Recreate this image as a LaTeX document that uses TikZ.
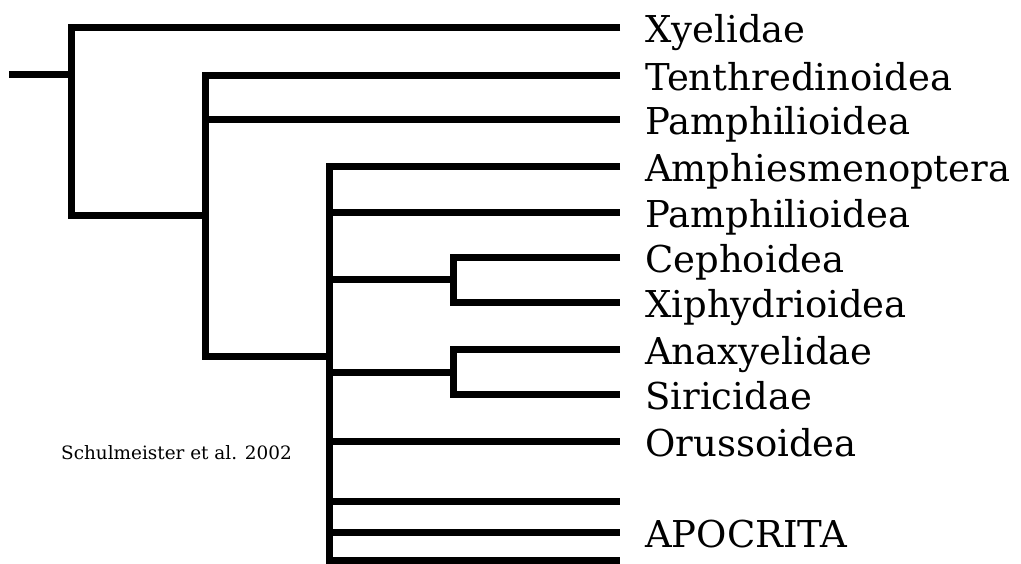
\documentclass[tikz,border=0pt]{standalone}
\usepackage{fontspec}
\setmainfont{DejaVu Serif}
\begin{document}
\begin{tikzpicture}[x=1pt,y=-1pt,
  br/.style={line width=7pt,line join=miter,line cap=butt},
  taxon/.style={anchor=base west,inner sep=0pt,font=\fontsize{37}{37}\selectfont},
  cite/.style={anchor=base west,inner sep=0pt,font=\fontsize{18.4}{18.4}\selectfont}]
\useasboundingbox (0,0) rectangle (1021,563);
% leaf ends and labels
\def\lx{620}
\foreach \n/\y in {xyel/27.5,tenth/75,pamA/119.5,amph/166,pamB/212.7,ceph/257.3,xiph/302.3,anax/349.3,siric/394,oruss/441.3,apA/501.7,apoc/532.7,apB/560.7}
  {\coordinate (e-\n) at (\lx,\y);}
\node[taxon] (t-xyel)  at (645,27.5+15) {Xyelidae};
\node[taxon] (t-tenth) at (645,75+15) {Tenthredinoidea};
\node[taxon] (t-pamA)  at (645,119.5+15) {Pamphilioidea};
\node[taxon] (t-amph)  at (645,166+15) {Amphiesmenoptera};
\node[taxon] (t-pamB)  at (645,212.7+15) {Pamphilioidea};
\node[taxon] (t-ceph)  at (645,257.3+15) {Cephoidea};
\node[taxon] (t-xiph)  at (645,302.3+15) {Xiphydrioidea};
\node[taxon] (t-anax)  at (645,349.3+15) {Anaxyelidae};
\node[taxon] (t-siric) at (645,394+15) {Siricidae};
\node[taxon] (t-oruss) at (645,441.3+15) {Orussoidea};
\node[taxon] (t-apoc)  at (645,532.7+15) {APOCRITA};
\node[cite] (cite) at (61,459) {Schulmeister et al. 2002};
% internal nodes
\coordinate (root) at (9,74);
\coordinate (n1) at (71.5,74);
\coordinate (n2) at (205,215);
\coordinate (n3) at (329,356);
\coordinate (n4) at (453.3,279.3);
\coordinate (n5) at (453.3,372.3);
% branches
\draw[br] (root) -- (n1);
\draw[br] (e-xyel) -| (n1) |- (n2);
\draw[br] (e-tenth) -| (n2) |- (n3);
\draw[br] (n2) |- (e-pamA);
\draw[br] (e-amph) -| (n3) |- (e-apB);
\draw[br] (n3) |- (e-pamB);
\draw[br] (n3 |- n4) -- (n4);
\draw[br] (n3 |- n5) -- (n5);
\draw[br] (n3) |- (e-oruss);
\draw[br] (n3) |- (e-apA);
\draw[br] (n3) |- (e-apoc);
\draw[br] (e-ceph) -| (n4) |- (e-xiph);
\draw[br] (e-anax) -| (n5) |- (e-siric);
\end{tikzpicture}
\end{document}
